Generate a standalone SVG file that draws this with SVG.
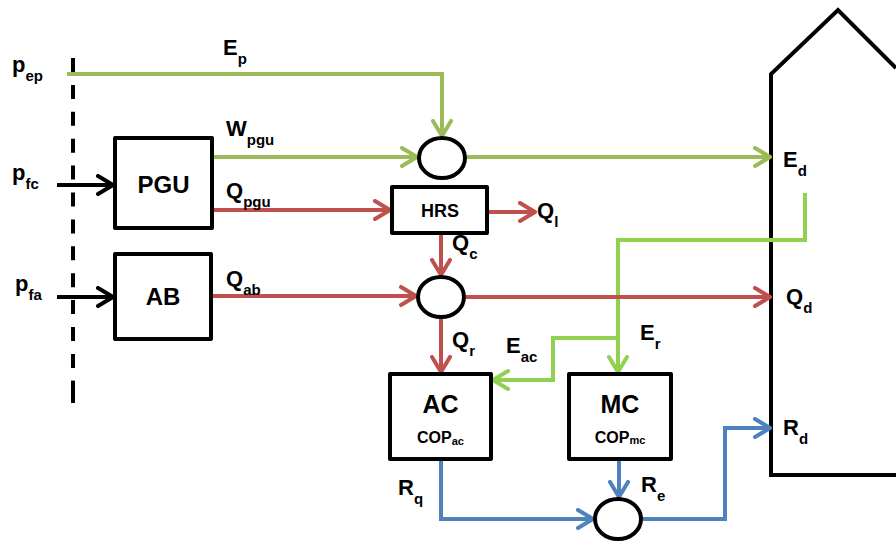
<svg xmlns="http://www.w3.org/2000/svg" width="896" height="548" viewBox="0 0 896 548">
<style>
text{font-family:"Liberation Sans",Arial,sans-serif;font-weight:bold;fill:#000}
.lbl{font-size:22px}
.sub{font-size:15px}
.box{fill:#fff;stroke:#000;stroke-width:4;stroke-linejoin:round}
.c{fill:#fff;stroke:#000;stroke-width:4}
.g{fill:none;stroke:#9BBB59;stroke-width:4}
.lg{fill:none;stroke:#92D050;stroke-width:4}
.r{fill:none;stroke:#C0504D;stroke-width:4}
.b{fill:none;stroke:#4F81BD;stroke-width:4}
.k{fill:none;stroke:#000;stroke-width:4}
</style>
<defs>
<marker id="ag" markerUnits="userSpaceOnUse" markerWidth="22" markerHeight="22" viewBox="0 0 22 22" refX="17" refY="11" orient="auto"><path d="M2,2 L17,11 L2,20" fill="none" stroke="#9BBB59" stroke-width="4" stroke-linecap="round" stroke-linejoin="round"/></marker>
<marker id="alg" markerUnits="userSpaceOnUse" markerWidth="22" markerHeight="22" viewBox="0 0 22 22" refX="17" refY="11" orient="auto"><path d="M2,2 L17,11 L2,20" fill="none" stroke="#92D050" stroke-width="4" stroke-linecap="round" stroke-linejoin="round"/></marker>
<marker id="ar" markerUnits="userSpaceOnUse" markerWidth="22" markerHeight="22" viewBox="0 0 22 22" refX="17" refY="11" orient="auto"><path d="M2,2 L17,11 L2,20" fill="none" stroke="#C0504D" stroke-width="4" stroke-linecap="round" stroke-linejoin="round"/></marker>
<marker id="ab" markerUnits="userSpaceOnUse" markerWidth="22" markerHeight="22" viewBox="0 0 22 22" refX="17" refY="11" orient="auto"><path d="M2,2 L17,11 L2,20" fill="none" stroke="#4F81BD" stroke-width="4" stroke-linecap="round" stroke-linejoin="round"/></marker>
<marker id="ak" markerUnits="userSpaceOnUse" markerWidth="22" markerHeight="22" viewBox="0 0 22 22" refX="17" refY="11" orient="auto"><path d="M2,2 L17,11 L2,20" fill="none" stroke="#000" stroke-width="4" stroke-linecap="round" stroke-linejoin="round"/></marker>
</defs>

<g id="boundary">
<line x1="73" y1="58" x2="73" y2="392" stroke="#000" stroke-width="4" stroke-dasharray="14 12.9"/>
<line x1="73" y1="380.8" x2="73" y2="403" stroke="#000" stroke-width="4"/>
</g>

<g id="building">
<path d="M896,68 L838,10 L771,74 V475 H896" fill="none" stroke="#000" stroke-width="4" stroke-linejoin="miter"/>
</g>

<g id="connectors">
<path class="g" d="M67,74 H442 V136" marker-end="url(#ag)"/>
<path class="g" d="M212,157 H417" marker-end="url(#ag)"/>
<path class="g" d="M467,157 H770" marker-end="url(#ag)"/>
<path class="lg" d="M805,193 V240 H618 V372" marker-end="url(#alg)"/>
<path class="lg" d="M618,338 H553 V380 H493" marker-end="url(#alg)"/>
<path class="r" d="M212,210 H390" marker-end="url(#ar)"/>
<path class="r" d="M489,212 H535" marker-end="url(#ar)"/>
<path class="r" d="M441,235 V275" marker-end="url(#ar)"/>
<path class="r" d="M211,296 H416" marker-end="url(#ar)"/>
<path class="r" d="M466,297 H770" marker-end="url(#ar)"/>
<path class="r" d="M441,319 V372" marker-end="url(#ar)"/>
<path class="b" d="M441,461 V519 H593" marker-end="url(#ab)"/>
<path class="b" d="M619,461 V497" marker-end="url(#ab)"/>
<path class="b" d="M643,519 H725 V428 H770" marker-end="url(#ab)"/>
<path class="k" d="M57,185 H113" marker-end="url(#ak)"/>
<path class="k" d="M57,297 H113" marker-end="url(#ak)"/>
</g>

<g id="PGU"><rect class="box" x="115" y="138" width="97" height="90"/><text x="163.5" y="193" font-size="24" text-anchor="middle">PGU</text></g>
<g id="AB"><rect class="box" x="115" y="254" width="96" height="85"/><text x="163" y="305" font-size="24" text-anchor="middle">AB</text></g>
<g id="HRS"><rect class="box" x="392" y="187" width="95" height="46"/><text x="440" y="217" font-size="18" text-anchor="middle">HRS</text></g>
<g id="AC"><rect class="box" x="390" y="374" width="101" height="85"/><text x="440.5" y="413" font-size="25" text-anchor="middle">AC</text><text x="440.5" y="443" font-size="16" text-anchor="middle">COP<tspan font-size="11" dy="2">ac</tspan></text></g>
<g id="MC"><rect class="box" x="569" y="374" width="102" height="85"/><text x="620" y="413" font-size="25" text-anchor="middle">MC</text><text x="620" y="443" font-size="16" text-anchor="middle">COP<tspan font-size="11" dy="1">mc</tspan></text></g>

<g id="mix1"><ellipse class="c" cx="442" cy="158" rx="23" ry="20"/></g>
<g id="mix2"><ellipse class="c" cx="441" cy="297" rx="23" ry="20"/></g>
<g id="mix3"><ellipse class="c" cx="618" cy="519" rx="23" ry="20"/></g>

<g id="labels">
<text class="lbl" x="12" y="72">p<tspan class="sub" dy="9">ep</tspan></text>
<text class="lbl" x="12" y="180">p<tspan class="sub" dy="9">fc</tspan></text>
<text class="lbl" x="15" y="291">p<tspan class="sub" dy="9">fa</tspan></text>
<text class="lbl" x="223" y="55">E<tspan class="sub" dy="9">p</tspan></text>
<text class="lbl" x="226" y="136">W<tspan class="sub" dy="9">pgu</tspan></text>
<text class="lbl" x="226" y="198">Q<tspan class="sub" dy="9">pgu</tspan></text>
<text class="lbl" x="226" y="286">Q<tspan class="sub" dy="9">ab</tspan></text>
<text class="lbl" x="537" y="218">Q<tspan class="sub" dy="9">l</tspan></text>
<text class="lbl" x="452" y="250">Q<tspan class="sub" dy="9">c</tspan></text>
<text class="lbl" x="452" y="347">Q<tspan class="sub" dy="9">r</tspan></text>
<text class="lbl" x="506" y="353">E<tspan class="sub" dy="9">ac</tspan></text>
<text class="lbl" x="640" y="340">E<tspan class="sub" dy="9">r</tspan></text>
<text class="lbl" x="398" y="495">R<tspan class="sub" dy="9">q</tspan></text>
<text class="lbl" x="641" y="492">R<tspan class="sub" dy="9">e</tspan></text>
<text class="lbl" x="783" y="167">E<tspan class="sub" dy="9">d</tspan></text>
<text class="lbl" x="786" y="304">Q<tspan class="sub" dy="9">d</tspan></text>
<text class="lbl" x="783" y="435">R<tspan class="sub" dy="9">d</tspan></text>
</g>
</svg>
